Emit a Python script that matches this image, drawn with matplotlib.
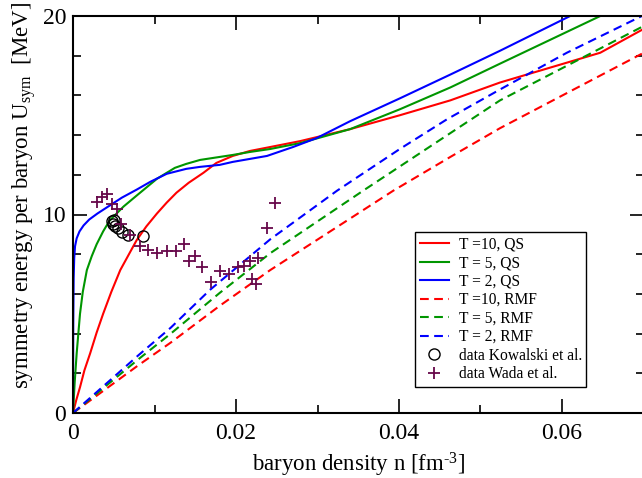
import matplotlib
matplotlib.use("Agg")
import matplotlib.pyplot as plt
from matplotlib.ticker import MultipleLocator, FormatStrFormatter, FuncFormatter

plt.rcParams['font.family'] = ['Liberation Serif', 'DejaVu Serif']
plt.rcParams['mathtext.fontset'] = 'custom'
plt.rcParams['mathtext.rm'] = 'Liberation Serif'
plt.rcParams['mathtext.it'] = 'Liberation Serif:italic'

# quantum statistical (QS) symmetry energy, T in MeV
n_qs_t2 = [0, 0.00003, 0.00008, 0.00015, 0.00025, 0.00045, 0.0008, 0.0013, 0.002,
           0.003, 0.0045, 0.006, 0.0078, 0.0095, 0.0115, 0.0139, 0.0156, 0.018,
           0.0196, 0.0217, 0.0238, 0.027, 0.0299, 0.034, 0.0401, 0.0463, 0.0524, 0.061]
u_qs_t2 = [0, 4.5, 6.8, 7.8, 8.4, 8.8, 9.15, 9.45, 9.75,
           10.05, 10.45, 10.85, 11.25, 11.65, 12.05, 12.3, 12.4, 12.5,
           12.65, 12.8, 12.95, 13.4, 13.85, 14.7, 15.85, 17.05, 18.25, 20.0]

n_qs_t5 = [0, 0.0002, 0.00045, 0.00086, 0.0012, 0.0017, 0.0023, 0.0029, 0.0037,
           0.0045, 0.0062, 0.0078, 0.0103, 0.0125, 0.0139, 0.0156, 0.018, 0.0196,
           0.0217, 0.0242, 0.0279, 0.034, 0.0401, 0.0463, 0.0524, 0.0647]
u_qs_t5 = [0, 1.5, 3.0, 5.0, 6.1, 7.2, 7.9, 8.5, 9.15,
           9.7, 10.4, 10.95, 11.8, 12.35, 12.55, 12.75, 12.9, 13.0,
           13.15, 13.3, 13.6, 14.3, 15.3, 16.4, 17.6, 20.0]

n_qs_t10 = [0, 0.0004, 0.00086, 0.0014, 0.0021, 0.0029, 0.0037, 0.0047, 0.0058,
            0.0068, 0.0078, 0.009, 0.0103, 0.0115, 0.0127, 0.0142, 0.016, 0.0176,
            0.0196, 0.0217, 0.0242, 0.0279, 0.034, 0.0401, 0.0463, 0.0524, 0.0647, 0.0698]
u_qs_t10 = [0, 0.65, 1.3, 2.15, 3.0, 4.05, 5.0, 6.1, 7.2,
            7.95, 8.7, 9.4, 10.05, 10.6, 11.1, 11.6, 12.1, 12.6,
            12.95, 13.2, 13.4, 13.7, 14.3, 15.0, 15.75, 16.65, 18.15, 19.3]

# relativistic mean field (RMF) symmetry energy
n_rmf_t2 = [0, 0.004, 0.008, 0.012, 0.0168, 0.0242, 0.0324, 0.0401, 0.0459, 0.0524, 0.0606, 0.0698]
u_rmf_t2 = [0, 1.45, 2.9, 4.3, 6.2, 8.75, 11.2, 13.3, 14.8, 16.3, 18.15, 20.0]

n_rmf_t5 = [0, 0.004, 0.008, 0.012, 0.018, 0.0242, 0.0356, 0.0463, 0.0524, 0.0698]
u_rmf_t5 = [0, 1.35, 2.7, 4.0, 6.05, 8.05, 11.2, 14.1, 15.75, 19.45]

n_rmf_t10 = [0, 0.004, 0.008, 0.012, 0.018, 0.0242, 0.0393, 0.0463, 0.0524, 0.0698]
u_rmf_t10 = [0, 1.2, 2.4, 3.55, 5.4, 7.2, 11.2, 12.9, 14.35, 18.1]

# experimental data
n_kowalski = [0.00479, 0.00503, 0.00491, 0.00515, 0.00552, 0.00601, 0.00675, 0.00859]
u_kowalski = [9.67, 9.72, 9.52, 9.42, 9.32, 9.12, 8.97, 8.92]

n_wada = [0.00291, 0.00352, 0.00413, 0.00479, 0.00536, 0.00589, 0.00699, 0.00822,
          0.00924, 0.01034, 0.01150, 0.01258, 0.01368, 0.01429, 0.01503, 0.01577,
          0.01696, 0.01800, 0.01912, 0.02028, 0.02098, 0.02172, 0.02274, 0.02200,
          0.02250, 0.02381, 0.02479]
u_wada = [10.65, 10.86, 11.01, 10.53, 10.28, 9.52, 8.97, 8.39,
          8.20, 8.04, 8.18, 8.18, 8.49, 7.66, 7.91, 7.36,
          6.59, 7.17, 6.99, 7.35, 7.39, 7.66, 7.81, 6.73,
          6.52, 9.31, 10.60]

RED, GREEN, BLUE = '#ff0000', '#009600', '#0000ff'
PURPLE = '#67074a'

fig = plt.figure(figsize=(6.42, 4.78), dpi=100)
ax = fig.add_axes([73 / 642, 65 / 478, 570.5 / 642, 397 / 478])

lw = 1.5
dash = (0, (4.2, 2.6))
ax.plot(n_qs_t10, u_qs_t10, color=RED, lw=lw, label='T =10, QS')
ax.plot(n_qs_t5, u_qs_t5, color=GREEN, lw=lw, label='T = 5, QS')
ax.plot(n_qs_t2, u_qs_t2, color=BLUE, lw=lw, label='T = 2, QS')
ax.plot(n_rmf_t10, u_rmf_t10, color=RED, lw=lw, ls=dash, label='T =10, RMF')
ax.plot(n_rmf_t5, u_rmf_t5, color=GREEN, lw=lw, ls=dash, label='T = 5, RMF')
ax.plot(n_rmf_t2, u_rmf_t2, color=BLUE, lw=lw, ls=dash, label='T = 2, RMF')
ax.plot(n_kowalski, u_kowalski, ls='none', marker='o', ms=8, mfc='none',
        mec='black', mew=1.0, label='data Kowalski et al.')
ax.plot(n_wada, u_wada, ls='none', marker='+', ms=8.5, mec=PURPLE, mew=1.3,
        label='data Wada et al.')

ax.set_xlim(0, 0.07)
ax.set_ylim(0, 20)
ax.xaxis.set_major_locator(MultipleLocator(0.02))
ax.xaxis.set_minor_locator(MultipleLocator(0.01))
ax.yaxis.set_major_locator(MultipleLocator(10))
ax.yaxis.set_minor_locator(MultipleLocator(2))
ax.xaxis.set_major_formatter(FuncFormatter(
    lambda v, p: '0' if abs(v) < 1e-12 else f'{v:.2f}'))
ax.yaxis.set_major_formatter(FormatStrFormatter('%d'))

ax.tick_params(which='both', direction='in', top=True, right=True,
               labelsize=17, width=1.2)
ax.tick_params(axis='x', which='both', pad=7)
ax.tick_params(axis='y', which='both', pad=5)
ax.tick_params(which='major', length=10)
ax.tick_params(which='minor', length=6)
for s in ax.spines.values():
    s.set_linewidth(1.5)

ax.set_xlabel('baryon density n [fm$^{\\mathrm{\u2010}3}$]', fontsize=16.5, labelpad=5)
ax.set_ylabel(r'symmetry energy per baryon U$_{\mathrm{sym}}$  [MeV]', fontsize=16.5)
ax.yaxis.set_label_coords(-0.086, 0.549)
ax.yaxis.label.set_va('center')

leg = ax.legend(loc='upper left', bbox_to_anchor=(0.5995, 0.456), fontsize=11.2,
                frameon=True, fancybox=False, framealpha=1, edgecolor='black',
                handlelength=1.9, handletextpad=0.6, labelspacing=0.16,
                borderpad=0.3, borderaxespad=0, numpoints=1)
leg.get_frame().set_linewidth(1.0)

fig.savefig('out.png', dpi=100)
